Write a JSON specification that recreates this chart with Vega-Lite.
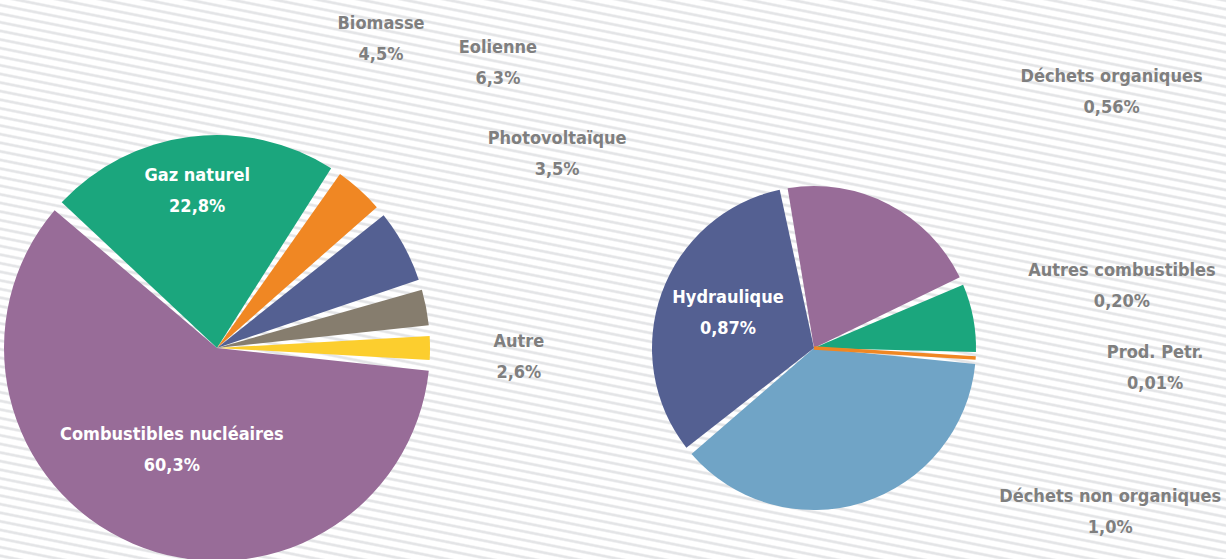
{
  "$schema": "https://vega.github.io/schema/vega-lite/v6.json",
  "width": 1226,
  "height": 559,
  "padding": 0,
  "autosize": {"type": "none"},
  "background": "#ffffff",
  "config": {
    "view": {"stroke": null},
    "text": {"font": "Liberation Sans Narrow, DejaVu Sans Condensed, sans-serif", "fontWeight": "bold", "fontSize": 18},
    "locale": {"number": {"decimal": ",", "thousands": " ", "grouping": [3], "currency": ["", "%"]}}
  },
  "datasets": {
    "sources": [
      {"pie": "principal", "ordre": 1, "source": "Autre", "share": 2.6},
      {"pie": "principal", "ordre": 2, "source": "Combustibles nucléaires", "share": 60.3},
      {"pie": "principal", "ordre": 3, "source": "Gaz naturel", "share": 22.8},
      {"pie": "principal", "ordre": 4, "source": "Biomasse", "share": 4.5},
      {"pie": "principal", "ordre": 5, "source": "Eolienne", "share": 6.3},
      {"pie": "principal", "ordre": 6, "source": "Photovoltaïque", "share": 3.5},
      {"pie": "détail", "ordre": 1, "source": "Déchets non organiques", "share": 1.0},
      {"pie": "détail", "ordre": 2, "source": "Hydraulique", "share": 0.87},
      {"pie": "détail", "ordre": 3, "source": "Déchets organiques", "share": 0.56},
      {"pie": "détail", "ordre": 4, "source": "Autres combustibles", "share": 0.20},
      {"pie": "détail", "ordre": 5, "source": "Prod. Petr.", "share": 0.01}
    ],
    "fond": [{"motif": "rayures"}]
  },
  "data": {"name": "sources"},
  "layer": [
    {
      "data": {"name": "fond"},
      "mark": {"type": "rect", "fill": {"gradient": "linear", "x1": 1, "y1": 0, "x2": 0.47077, "y2": 1.20649, "stops": [
        {"offset": 0, "color": "#e4e5e7"}, {"offset": 0.0017, "color": "#e4e5e7"}, {"offset": 0.0035, "color": "#ffffff"}, {"offset": 0.0089, "color": "#ffffff"},
        {"offset": 0.0107, "color": "#e4e5e7"}, {"offset": 0.0124, "color": "#e4e5e7"}, {"offset": 0.0142, "color": "#ffffff"}, {"offset": 0.0196, "color": "#ffffff"},
        {"offset": 0.0214, "color": "#e4e5e7"}, {"offset": 0.0231, "color": "#e4e5e7"}, {"offset": 0.0249, "color": "#ffffff"}, {"offset": 0.0303, "color": "#ffffff"},
        {"offset": 0.0321, "color": "#e4e5e7"}, {"offset": 0.0338, "color": "#e4e5e7"}, {"offset": 0.0356, "color": "#ffffff"}, {"offset": 0.0410, "color": "#ffffff"},
        {"offset": 0.0428, "color": "#e4e5e7"}, {"offset": 0.0445, "color": "#e4e5e7"}, {"offset": 0.0463, "color": "#ffffff"}, {"offset": 0.0517, "color": "#ffffff"},
        {"offset": 0.0535, "color": "#e4e5e7"}, {"offset": 0.0552, "color": "#e4e5e7"}, {"offset": 0.0570, "color": "#ffffff"}, {"offset": 0.0624, "color": "#ffffff"},
        {"offset": 0.0642, "color": "#e4e5e7"}, {"offset": 0.0659, "color": "#e4e5e7"}, {"offset": 0.0677, "color": "#ffffff"}, {"offset": 0.0731, "color": "#ffffff"},
        {"offset": 0.0749, "color": "#e4e5e7"}, {"offset": 0.0766, "color": "#e4e5e7"}, {"offset": 0.0784, "color": "#ffffff"}, {"offset": 0.0838, "color": "#ffffff"},
        {"offset": 0.0856, "color": "#e4e5e7"}, {"offset": 0.0873, "color": "#e4e5e7"}, {"offset": 0.0891, "color": "#ffffff"}, {"offset": 0.0945, "color": "#ffffff"},
        {"offset": 0.0963, "color": "#e4e5e7"}, {"offset": 0.0980, "color": "#e4e5e7"}, {"offset": 0.0998, "color": "#ffffff"}, {"offset": 0.1052, "color": "#ffffff"},
        {"offset": 0.1070, "color": "#e4e5e7"}, {"offset": 0.1087, "color": "#e4e5e7"}, {"offset": 0.1105, "color": "#ffffff"}, {"offset": 0.1159, "color": "#ffffff"},
        {"offset": 0.1177, "color": "#e4e5e7"}, {"offset": 0.1194, "color": "#e4e5e7"}, {"offset": 0.1212, "color": "#ffffff"}, {"offset": 0.1266, "color": "#ffffff"},
        {"offset": 0.1284, "color": "#e4e5e7"}, {"offset": 0.1301, "color": "#e4e5e7"}, {"offset": 0.1319, "color": "#ffffff"}, {"offset": 0.1373, "color": "#ffffff"},
        {"offset": 0.1391, "color": "#e4e5e7"}, {"offset": 0.1408, "color": "#e4e5e7"}, {"offset": 0.1426, "color": "#ffffff"}, {"offset": 0.1480, "color": "#ffffff"},
        {"offset": 0.1498, "color": "#e4e5e7"}, {"offset": 0.1515, "color": "#e4e5e7"}, {"offset": 0.1533, "color": "#ffffff"}, {"offset": 0.1587, "color": "#ffffff"},
        {"offset": 0.1605, "color": "#e4e5e7"}, {"offset": 0.1622, "color": "#e4e5e7"}, {"offset": 0.1640, "color": "#ffffff"}, {"offset": 0.1694, "color": "#ffffff"},
        {"offset": 0.1712, "color": "#e4e5e7"}, {"offset": 0.1729, "color": "#e4e5e7"}, {"offset": 0.1747, "color": "#ffffff"}, {"offset": 0.1801, "color": "#ffffff"},
        {"offset": 0.1819, "color": "#e4e5e7"}, {"offset": 0.1836, "color": "#e4e5e7"}, {"offset": 0.1854, "color": "#ffffff"}, {"offset": 0.1908, "color": "#ffffff"},
        {"offset": 0.1926, "color": "#e4e5e7"}, {"offset": 0.1943, "color": "#e4e5e7"}, {"offset": 0.1961, "color": "#ffffff"}, {"offset": 0.2015, "color": "#ffffff"},
        {"offset": 0.2033, "color": "#e4e5e7"}, {"offset": 0.2050, "color": "#e4e5e7"}, {"offset": 0.2068, "color": "#ffffff"}, {"offset": 0.2122, "color": "#ffffff"},
        {"offset": 0.2140, "color": "#e4e5e7"}, {"offset": 0.2157, "color": "#e4e5e7"}, {"offset": 0.2175, "color": "#ffffff"}, {"offset": 0.2229, "color": "#ffffff"},
        {"offset": 0.2247, "color": "#e4e5e7"}, {"offset": 0.2264, "color": "#e4e5e7"}, {"offset": 0.2282, "color": "#ffffff"}, {"offset": 0.2336, "color": "#ffffff"},
        {"offset": 0.2354, "color": "#e4e5e7"}, {"offset": 0.2371, "color": "#e4e5e7"}, {"offset": 0.2389, "color": "#ffffff"}, {"offset": 0.2443, "color": "#ffffff"},
        {"offset": 0.2461, "color": "#e4e5e7"}, {"offset": 0.2478, "color": "#e4e5e7"}, {"offset": 0.2496, "color": "#ffffff"}, {"offset": 0.2550, "color": "#ffffff"},
        {"offset": 0.2568, "color": "#e4e5e7"}, {"offset": 0.2585, "color": "#e4e5e7"}, {"offset": 0.2603, "color": "#ffffff"}, {"offset": 0.2657, "color": "#ffffff"},
        {"offset": 0.2675, "color": "#e4e5e7"}, {"offset": 0.2692, "color": "#e4e5e7"}, {"offset": 0.2710, "color": "#ffffff"}, {"offset": 0.2764, "color": "#ffffff"},
        {"offset": 0.2782, "color": "#e4e5e7"}, {"offset": 0.2799, "color": "#e4e5e7"}, {"offset": 0.2817, "color": "#ffffff"}, {"offset": 0.2871, "color": "#ffffff"},
        {"offset": 0.2889, "color": "#e4e5e7"}, {"offset": 0.2906, "color": "#e4e5e7"}, {"offset": 0.2924, "color": "#ffffff"}, {"offset": 0.2978, "color": "#ffffff"},
        {"offset": 0.2996, "color": "#e4e5e7"}, {"offset": 0.3013, "color": "#e4e5e7"}, {"offset": 0.3031, "color": "#ffffff"}, {"offset": 0.3085, "color": "#ffffff"},
        {"offset": 0.3103, "color": "#e4e5e7"}, {"offset": 0.3120, "color": "#e4e5e7"}, {"offset": 0.3138, "color": "#ffffff"}, {"offset": 0.3192, "color": "#ffffff"},
        {"offset": 0.3210, "color": "#e4e5e7"}, {"offset": 0.3227, "color": "#e4e5e7"}, {"offset": 0.3245, "color": "#ffffff"}, {"offset": 0.3299, "color": "#ffffff"},
        {"offset": 0.3317, "color": "#e4e5e7"}, {"offset": 0.3334, "color": "#e4e5e7"}, {"offset": 0.3352, "color": "#ffffff"}, {"offset": 0.3406, "color": "#ffffff"},
        {"offset": 0.3424, "color": "#e4e5e7"}, {"offset": 0.3441, "color": "#e4e5e7"}, {"offset": 0.3459, "color": "#ffffff"}, {"offset": 0.3513, "color": "#ffffff"},
        {"offset": 0.3531, "color": "#e4e5e7"}, {"offset": 0.3548, "color": "#e4e5e7"}, {"offset": 0.3566, "color": "#ffffff"}, {"offset": 0.3620, "color": "#ffffff"},
        {"offset": 0.3638, "color": "#e4e5e7"}, {"offset": 0.3655, "color": "#e4e5e7"}, {"offset": 0.3673, "color": "#ffffff"}, {"offset": 0.3727, "color": "#ffffff"},
        {"offset": 0.3745, "color": "#e4e5e7"}, {"offset": 0.3762, "color": "#e4e5e7"}, {"offset": 0.3780, "color": "#ffffff"}, {"offset": 0.3834, "color": "#ffffff"},
        {"offset": 0.3852, "color": "#e4e5e7"}, {"offset": 0.3869, "color": "#e4e5e7"}, {"offset": 0.3887, "color": "#ffffff"}, {"offset": 0.3941, "color": "#ffffff"},
        {"offset": 0.3959, "color": "#e4e5e7"}, {"offset": 0.3976, "color": "#e4e5e7"}, {"offset": 0.3994, "color": "#ffffff"}, {"offset": 0.4048, "color": "#ffffff"},
        {"offset": 0.4066, "color": "#e4e5e7"}, {"offset": 0.4083, "color": "#e4e5e7"}, {"offset": 0.4101, "color": "#ffffff"}, {"offset": 0.4155, "color": "#ffffff"},
        {"offset": 0.4173, "color": "#e4e5e7"}, {"offset": 0.4190, "color": "#e4e5e7"}, {"offset": 0.4208, "color": "#ffffff"}, {"offset": 0.4262, "color": "#ffffff"},
        {"offset": 0.4280, "color": "#e4e5e7"}, {"offset": 0.4297, "color": "#e4e5e7"}, {"offset": 0.4315, "color": "#ffffff"}, {"offset": 0.4369, "color": "#ffffff"},
        {"offset": 0.4387, "color": "#e4e5e7"}, {"offset": 0.4404, "color": "#e4e5e7"}, {"offset": 0.4422, "color": "#ffffff"}, {"offset": 0.4476, "color": "#ffffff"},
        {"offset": 0.4494, "color": "#e4e5e7"}, {"offset": 0.4511, "color": "#e4e5e7"}, {"offset": 0.4529, "color": "#ffffff"}, {"offset": 0.4583, "color": "#ffffff"},
        {"offset": 0.4601, "color": "#e4e5e7"}, {"offset": 0.4618, "color": "#e4e5e7"}, {"offset": 0.4636, "color": "#ffffff"}, {"offset": 0.4690, "color": "#ffffff"},
        {"offset": 0.4708, "color": "#e4e5e7"}, {"offset": 0.4725, "color": "#e4e5e7"}, {"offset": 0.4743, "color": "#ffffff"}, {"offset": 0.4797, "color": "#ffffff"},
        {"offset": 0.4815, "color": "#e4e5e7"}, {"offset": 0.4832, "color": "#e4e5e7"}, {"offset": 0.4850, "color": "#ffffff"}, {"offset": 0.4904, "color": "#ffffff"},
        {"offset": 0.4922, "color": "#e4e5e7"}, {"offset": 0.4939, "color": "#e4e5e7"}, {"offset": 0.4957, "color": "#ffffff"}, {"offset": 0.5011, "color": "#ffffff"},
        {"offset": 0.5029, "color": "#e4e5e7"}, {"offset": 0.5046, "color": "#e4e5e7"}, {"offset": 0.5064, "color": "#ffffff"}, {"offset": 0.5118, "color": "#ffffff"},
        {"offset": 0.5136, "color": "#e4e5e7"}, {"offset": 0.5153, "color": "#e4e5e7"}, {"offset": 0.5171, "color": "#ffffff"}, {"offset": 0.5225, "color": "#ffffff"},
        {"offset": 0.5243, "color": "#e4e5e7"}, {"offset": 0.5260, "color": "#e4e5e7"}, {"offset": 0.5278, "color": "#ffffff"}, {"offset": 0.5332, "color": "#ffffff"},
        {"offset": 0.5350, "color": "#e4e5e7"}, {"offset": 0.5367, "color": "#e4e5e7"}, {"offset": 0.5385, "color": "#ffffff"}, {"offset": 0.5439, "color": "#ffffff"},
        {"offset": 0.5457, "color": "#e4e5e7"}, {"offset": 0.5474, "color": "#e4e5e7"}, {"offset": 0.5492, "color": "#ffffff"}, {"offset": 0.5546, "color": "#ffffff"},
        {"offset": 0.5564, "color": "#e4e5e7"}, {"offset": 0.5581, "color": "#e4e5e7"}, {"offset": 0.5599, "color": "#ffffff"}, {"offset": 0.5653, "color": "#ffffff"},
        {"offset": 0.5671, "color": "#e4e5e7"}, {"offset": 0.5688, "color": "#e4e5e7"}, {"offset": 0.5706, "color": "#ffffff"}, {"offset": 0.5760, "color": "#ffffff"},
        {"offset": 0.5778, "color": "#e4e5e7"}, {"offset": 0.5795, "color": "#e4e5e7"}, {"offset": 0.5813, "color": "#ffffff"}, {"offset": 0.5867, "color": "#ffffff"},
        {"offset": 0.5885, "color": "#e4e5e7"}, {"offset": 0.5902, "color": "#e4e5e7"}, {"offset": 0.5920, "color": "#ffffff"}, {"offset": 0.5974, "color": "#ffffff"},
        {"offset": 0.5992, "color": "#e4e5e7"}, {"offset": 0.6009, "color": "#e4e5e7"}, {"offset": 0.6027, "color": "#ffffff"}, {"offset": 0.6081, "color": "#ffffff"},
        {"offset": 0.6099, "color": "#e4e5e7"}, {"offset": 0.6116, "color": "#e4e5e7"}, {"offset": 0.6134, "color": "#ffffff"}, {"offset": 0.6188, "color": "#ffffff"},
        {"offset": 0.6206, "color": "#e4e5e7"}, {"offset": 0.6223, "color": "#e4e5e7"}, {"offset": 0.6241, "color": "#ffffff"}, {"offset": 0.6295, "color": "#ffffff"},
        {"offset": 0.6313, "color": "#e4e5e7"}, {"offset": 0.6330, "color": "#e4e5e7"}, {"offset": 0.6348, "color": "#ffffff"}, {"offset": 0.6402, "color": "#ffffff"},
        {"offset": 0.6420, "color": "#e4e5e7"}, {"offset": 0.6437, "color": "#e4e5e7"}, {"offset": 0.6455, "color": "#ffffff"}, {"offset": 0.6509, "color": "#ffffff"},
        {"offset": 0.6527, "color": "#e4e5e7"}, {"offset": 0.6544, "color": "#e4e5e7"}, {"offset": 0.6562, "color": "#ffffff"}, {"offset": 0.6616, "color": "#ffffff"},
        {"offset": 0.6634, "color": "#e4e5e7"}, {"offset": 0.6651, "color": "#e4e5e7"}, {"offset": 0.6669, "color": "#ffffff"}, {"offset": 0.6723, "color": "#ffffff"},
        {"offset": 0.6741, "color": "#e4e5e7"}, {"offset": 0.6758, "color": "#e4e5e7"}, {"offset": 0.6776, "color": "#ffffff"}, {"offset": 0.6830, "color": "#ffffff"},
        {"offset": 0.6848, "color": "#e4e5e7"}, {"offset": 0.6865, "color": "#e4e5e7"}, {"offset": 0.6883, "color": "#ffffff"}, {"offset": 0.6937, "color": "#ffffff"},
        {"offset": 0.6955, "color": "#e4e5e7"}, {"offset": 0.6972, "color": "#e4e5e7"}, {"offset": 0.6990, "color": "#ffffff"}, {"offset": 0.7044, "color": "#ffffff"},
        {"offset": 0.7062, "color": "#e4e5e7"}, {"offset": 0.7079, "color": "#e4e5e7"}, {"offset": 0.7097, "color": "#ffffff"}, {"offset": 0.7151, "color": "#ffffff"},
        {"offset": 0.7169, "color": "#e4e5e7"}, {"offset": 0.7186, "color": "#e4e5e7"}, {"offset": 0.7204, "color": "#ffffff"}, {"offset": 0.7258, "color": "#ffffff"},
        {"offset": 0.7276, "color": "#e4e5e7"}, {"offset": 0.7293, "color": "#e4e5e7"}, {"offset": 0.7311, "color": "#ffffff"}, {"offset": 0.7365, "color": "#ffffff"},
        {"offset": 0.7383, "color": "#e4e5e7"}, {"offset": 0.7400, "color": "#e4e5e7"}, {"offset": 0.7418, "color": "#ffffff"}, {"offset": 0.7472, "color": "#ffffff"},
        {"offset": 0.7490, "color": "#e4e5e7"}, {"offset": 0.7507, "color": "#e4e5e7"}, {"offset": 0.7525, "color": "#ffffff"}, {"offset": 0.7579, "color": "#ffffff"},
        {"offset": 0.7597, "color": "#e4e5e7"}, {"offset": 0.7614, "color": "#e4e5e7"}, {"offset": 0.7632, "color": "#ffffff"}, {"offset": 0.7686, "color": "#ffffff"},
        {"offset": 0.7704, "color": "#e4e5e7"}, {"offset": 0.7721, "color": "#e4e5e7"}, {"offset": 0.7739, "color": "#ffffff"}, {"offset": 0.7793, "color": "#ffffff"},
        {"offset": 0.7811, "color": "#e4e5e7"}, {"offset": 0.7828, "color": "#e4e5e7"}, {"offset": 0.7846, "color": "#ffffff"}, {"offset": 0.7900, "color": "#ffffff"},
        {"offset": 0.7918, "color": "#e4e5e7"}, {"offset": 0.7935, "color": "#e4e5e7"}, {"offset": 0.7953, "color": "#ffffff"}, {"offset": 0.8007, "color": "#ffffff"},
        {"offset": 0.8025, "color": "#e4e5e7"}, {"offset": 0.8042, "color": "#e4e5e7"}, {"offset": 0.8060, "color": "#ffffff"}, {"offset": 0.8114, "color": "#ffffff"},
        {"offset": 0.8132, "color": "#e4e5e7"}, {"offset": 0.8149, "color": "#e4e5e7"}, {"offset": 0.8167, "color": "#ffffff"}, {"offset": 0.8221, "color": "#ffffff"},
        {"offset": 0.8239, "color": "#e4e5e7"}, {"offset": 0.8256, "color": "#e4e5e7"}, {"offset": 0.8274, "color": "#ffffff"}, {"offset": 0.8328, "color": "#ffffff"},
        {"offset": 0.8346, "color": "#e4e5e7"}, {"offset": 0.8363, "color": "#e4e5e7"}, {"offset": 0.8381, "color": "#ffffff"}, {"offset": 0.8435, "color": "#ffffff"},
        {"offset": 0.8453, "color": "#e4e5e7"}, {"offset": 0.8470, "color": "#e4e5e7"}, {"offset": 0.8488, "color": "#ffffff"}, {"offset": 0.8542, "color": "#ffffff"},
        {"offset": 0.8560, "color": "#e4e5e7"}, {"offset": 0.8577, "color": "#e4e5e7"}, {"offset": 0.8595, "color": "#ffffff"}, {"offset": 0.8649, "color": "#ffffff"},
        {"offset": 0.8667, "color": "#e4e5e7"}, {"offset": 0.8684, "color": "#e4e5e7"}, {"offset": 0.8702, "color": "#ffffff"}, {"offset": 0.8756, "color": "#ffffff"},
        {"offset": 0.8774, "color": "#e4e5e7"}, {"offset": 0.8791, "color": "#e4e5e7"}, {"offset": 0.8809, "color": "#ffffff"}, {"offset": 0.8863, "color": "#ffffff"},
        {"offset": 0.8881, "color": "#e4e5e7"}, {"offset": 0.8898, "color": "#e4e5e7"}, {"offset": 0.8916, "color": "#ffffff"}, {"offset": 0.8970, "color": "#ffffff"},
        {"offset": 0.8988, "color": "#e4e5e7"}, {"offset": 0.9005, "color": "#e4e5e7"}, {"offset": 0.9023, "color": "#ffffff"}, {"offset": 0.9077, "color": "#ffffff"},
        {"offset": 0.9095, "color": "#e4e5e7"}, {"offset": 0.9112, "color": "#e4e5e7"}, {"offset": 0.9130, "color": "#ffffff"}, {"offset": 0.9184, "color": "#ffffff"},
        {"offset": 0.9202, "color": "#e4e5e7"}, {"offset": 0.9219, "color": "#e4e5e7"}, {"offset": 0.9237, "color": "#ffffff"}, {"offset": 0.9291, "color": "#ffffff"},
        {"offset": 0.9309, "color": "#e4e5e7"}, {"offset": 0.9326, "color": "#e4e5e7"}, {"offset": 0.9344, "color": "#ffffff"}, {"offset": 0.9398, "color": "#ffffff"},
        {"offset": 0.9416, "color": "#e4e5e7"}, {"offset": 0.9433, "color": "#e4e5e7"}, {"offset": 0.9451, "color": "#ffffff"}, {"offset": 0.9505, "color": "#ffffff"},
        {"offset": 0.9523, "color": "#e4e5e7"}, {"offset": 0.9540, "color": "#e4e5e7"}, {"offset": 0.9558, "color": "#ffffff"}, {"offset": 0.9612, "color": "#ffffff"},
        {"offset": 0.9630, "color": "#e4e5e7"}, {"offset": 0.9647, "color": "#e4e5e7"}, {"offset": 0.9665, "color": "#ffffff"}, {"offset": 0.9719, "color": "#ffffff"},
        {"offset": 0.9737, "color": "#e4e5e7"}, {"offset": 0.9754, "color": "#e4e5e7"}, {"offset": 0.9772, "color": "#ffffff"}, {"offset": 0.9826, "color": "#ffffff"},
        {"offset": 0.9844, "color": "#e4e5e7"}, {"offset": 0.9861, "color": "#e4e5e7"}, {"offset": 0.9879, "color": "#ffffff"}, {"offset": 0.9933, "color": "#ffffff"},
        {"offset": 0.9951, "color": "#e4e5e7"}, {"offset": 0.9968, "color": "#e4e5e7"}, {"offset": 0.9986, "color": "#ffffff"}, {"offset": 1, "color": "#ffffff"}
      ]}},
      "encoding": {}
    },
    {
      "transform": [{"filter": "datum.pie == 'principal'"}],
      "encoding": {
        "x": {"field": "pie", "type": "nominal", "scale": {"type": "point", "domain": ["principal", "détail"], "range": [217, 814], "padding": 0}, "axis": null},
        "y": {"field": "pie", "type": "nominal", "scale": {"type": "point", "domain": ["principal", "détail"], "range": [348, 348], "padding": 0}, "axis": null},
        "theta": {"field": "share", "type": "quantitative", "stack": true, "scale": {"domain": [0, 100], "range": [1.48911, 7.77229]}},
        "order": {"field": "ordre", "type": "quantitative"},
        "detail": {"field": "source", "type": "nominal"}
      },
      "layer": [
        {"mark": {"type": "arc", "outerRadius": 213, "padAngle": 0.05},
         "encoding": {"color": {"field": "source", "type": "nominal", "legend": null, "scale": {
           "domain": ["Combustibles nucléaires", "Gaz naturel", "Biomasse", "Eolienne", "Photovoltaïque", "Autre", "Hydraulique", "Déchets organiques", "Autres combustibles", "Prod. Petr.", "Déchets non organiques"],
           "range": ["#986c98", "#1ba67d", "#f08723", "#546092", "#867d6e", "#fcce2e", "#546092", "#986c98", "#1ba67d", "#f08723", "#70a4c6"]}}}},
        {"mark": {"type": "text", "radius": 158, "dy": -15.5, "color": "#ffffff"},
         "encoding": {"text": {"condition": {"test": "datum.source == 'Gaz naturel'", "field": "source", "type": "nominal"}, "value": ""}}},
        {"mark": {"type": "text", "radius": 158, "dy": 15.5, "color": "#ffffff"},
         "encoding": {"text": {"condition": {"test": "datum.source == 'Gaz naturel'", "field": "share", "type": "quantitative", "format": "$.1f"}, "value": ""}}},
        {"mark": {"type": "text", "radius": 112, "thetaOffset": 0.009, "dy": -15.5, "color": "#ffffff"},
         "encoding": {"text": {"condition": {"test": "datum.source == 'Combustibles nucléaires'", "field": "source", "type": "nominal"}, "value": ""}}},
        {"mark": {"type": "text", "radius": 112, "thetaOffset": 0.009, "dy": 15.5, "color": "#ffffff"},
         "encoding": {"text": {"condition": {"test": "datum.source == 'Combustibles nucléaires'", "field": "share", "type": "quantitative", "format": "$.1f"}, "value": ""}}},
        {"mark": {"type": "text", "radius": 349, "thetaOffset": -0.2426, "dy": -15.5, "color": "#7f7f7f"},
         "encoding": {"text": {"condition": {"test": "datum.source == 'Biomasse'", "field": "source", "type": "nominal"}, "value": ""}}},
        {"mark": {"type": "text", "radius": 349, "thetaOffset": -0.2426, "dy": 15.5, "color": "#7f7f7f"},
         "encoding": {"text": {"condition": {"test": "datum.source == 'Biomasse'", "field": "share", "type": "quantitative", "format": "$.1f"}, "value": ""}}},
        {"mark": {"type": "text", "radius": 399.5, "thetaOffset": -0.2915, "dy": -15.5, "color": "#7f7f7f"},
         "encoding": {"text": {"condition": {"test": "datum.source == 'Eolienne'", "field": "source", "type": "nominal"}, "value": ""}}},
        {"mark": {"type": "text", "radius": 399.5, "thetaOffset": -0.2915, "dy": 15.5, "color": "#7f7f7f"},
         "encoding": {"text": {"condition": {"test": "datum.source == 'Eolienne'", "field": "share", "type": "quantitative", "format": "$.1f"}, "value": ""}}},
        {"mark": {"type": "text", "radius": 391.5, "thetaOffset": -0.3264, "dy": -15.5, "color": "#7f7f7f"},
         "encoding": {"text": {"condition": {"test": "datum.source == 'Photovoltaïque'", "field": "source", "type": "nominal"}, "value": ""}}},
        {"mark": {"type": "text", "radius": 391.5, "thetaOffset": -0.3264, "dy": 15.5, "color": "#7f7f7f"},
         "encoding": {"text": {"condition": {"test": "datum.source == 'Photovoltaïque'", "field": "share", "type": "quantitative", "format": "$.1f"}, "value": ""}}},
        {"mark": {"type": "text", "radius": 302, "thetaOffset": 0.0314, "dy": -15.5, "color": "#7f7f7f"},
         "encoding": {"text": {"condition": {"test": "datum.source == 'Autre'", "field": "source", "type": "nominal"}, "value": ""}}},
        {"mark": {"type": "text", "radius": 302, "thetaOffset": 0.0314, "dy": 15.5, "color": "#7f7f7f"},
         "encoding": {"text": {"condition": {"test": "datum.source == 'Autre'", "field": "share", "type": "quantitative", "format": "$.1f"}, "value": ""}}}
      ]
    },
    {
      "transform": [{"filter": "datum.pie == 'détail'"}],
      "encoding": {
        "x": {"field": "pie", "type": "nominal", "scale": {"type": "point", "domain": ["principal", "détail"], "range": [217, 814], "padding": 0}, "axis": null},
        "y": {"field": "pie", "type": "nominal", "scale": {"type": "point", "domain": ["principal", "détail"], "range": [348, 348], "padding": 0}, "axis": null},
        "theta": {"field": "share", "type": "quantitative", "stack": true, "scale": {"domain": [0, 2.64], "range": [1.64410, 7.92729]}},
        "order": {"field": "ordre", "type": "quantitative"},
        "detail": {"field": "source", "type": "nominal"}
      },
      "layer": [
        {"mark": {"type": "arc", "outerRadius": 162, "padAngle": 0.05},
         "encoding": {
           "color": {"field": "source", "type": "nominal", "legend": null, "scale": {
             "domain": ["Combustibles nucléaires", "Gaz naturel", "Biomasse", "Eolienne", "Photovoltaïque", "Autre", "Hydraulique", "Déchets organiques", "Autres combustibles", "Prod. Petr.", "Déchets non organiques"],
             "range": ["#986c98", "#1ba67d", "#f08723", "#546092", "#867d6e", "#fcce2e", "#546092", "#986c98", "#1ba67d", "#f08723", "#70a4c6"]}},
           "stroke": {"field": "source", "type": "nominal", "legend": null, "scale": {
             "domain": ["Combustibles nucléaires", "Gaz naturel", "Biomasse", "Eolienne", "Photovoltaïque", "Autre", "Hydraulique", "Déchets organiques", "Autres combustibles", "Prod. Petr.", "Déchets non organiques"],
             "range": ["#986c98", "#1ba67d", "#f08723", "#546092", "#867d6e", "#fcce2e", "#546092", "#986c98", "#1ba67d", "#f08723", "#70a4c6"]}},
           "strokeWidth": {"condition": {"test": "datum.source == 'Prod. Petr.'", "value": 3.5}, "value": 0}
         }},
        {"mark": {"type": "text", "radius": 92.5, "thetaOffset": 0.0297, "dy": -15.5, "color": "#ffffff"},
         "encoding": {"text": {"condition": {"test": "datum.source == 'Hydraulique'", "field": "source", "type": "nominal"}, "value": ""}}},
        {"mark": {"type": "text", "radius": 92.5, "thetaOffset": 0.0297, "dy": 15.5, "color": "#ffffff"},
         "encoding": {"text": {"condition": {"test": "datum.source == 'Hydraulique'", "field": "share", "type": "quantitative", "format": "$.2f"}, "value": ""}}},
        {"mark": {"type": "text", "radius": 392, "thetaOffset": 0.384, "dy": -15.5, "color": "#7f7f7f"},
         "encoding": {"text": {"condition": {"test": "datum.source == 'Déchets organiques'", "field": "source", "type": "nominal"}, "value": ""}}},
        {"mark": {"type": "text", "radius": 392, "thetaOffset": 0.384, "dy": 15.5, "color": "#7f7f7f"},
         "encoding": {"text": {"condition": {"test": "datum.source == 'Déchets organiques'", "field": "share", "type": "quantitative", "format": "$.2f"}, "value": ""}}},
        {"mark": {"type": "text", "radius": 314, "thetaOffset": -0.0079, "dy": -15.5, "color": "#7f7f7f"},
         "encoding": {"text": {"condition": {"test": "datum.source == 'Autres combustibles'", "field": "source", "type": "nominal"}, "value": ""}}},
        {"mark": {"type": "text", "radius": 314, "thetaOffset": -0.0079, "dy": 15.5, "color": "#7f7f7f"},
         "encoding": {"text": {"condition": {"test": "datum.source == 'Autres combustibles'", "field": "share", "type": "quantitative", "format": "$.2f"}, "value": ""}}},
        {"mark": {"type": "text", "radius": 341.7, "dy": -15.5, "color": "#7f7f7f"},
         "encoding": {"text": {"condition": {"test": "datum.source == 'Prod. Petr.'", "field": "source", "type": "nominal"}, "value": ""}}},
        {"mark": {"type": "text", "radius": 341.7, "dy": 15.5, "color": "#7f7f7f"},
         "encoding": {"text": {"condition": {"test": "datum.source == 'Prod. Petr.'", "field": "share", "type": "quantitative", "format": "$.2f"}, "value": ""}}},
        {"mark": {"type": "text", "radius": 339, "thetaOffset": -0.7557, "dy": -15.5, "color": "#7f7f7f"},
         "encoding": {"text": {"condition": {"test": "datum.source == 'Déchets non organiques'", "field": "source", "type": "nominal"}, "value": ""}}},
        {"mark": {"type": "text", "radius": 339, "thetaOffset": -0.7557, "dy": 15.5, "color": "#7f7f7f"},
         "encoding": {"text": {"condition": {"test": "datum.source == 'Déchets non organiques'", "field": "share", "type": "quantitative", "format": "$.1f"}, "value": ""}}}
      ]
    }
  ],
  "resolve": {"scale": {"theta": "independent"}}
}
